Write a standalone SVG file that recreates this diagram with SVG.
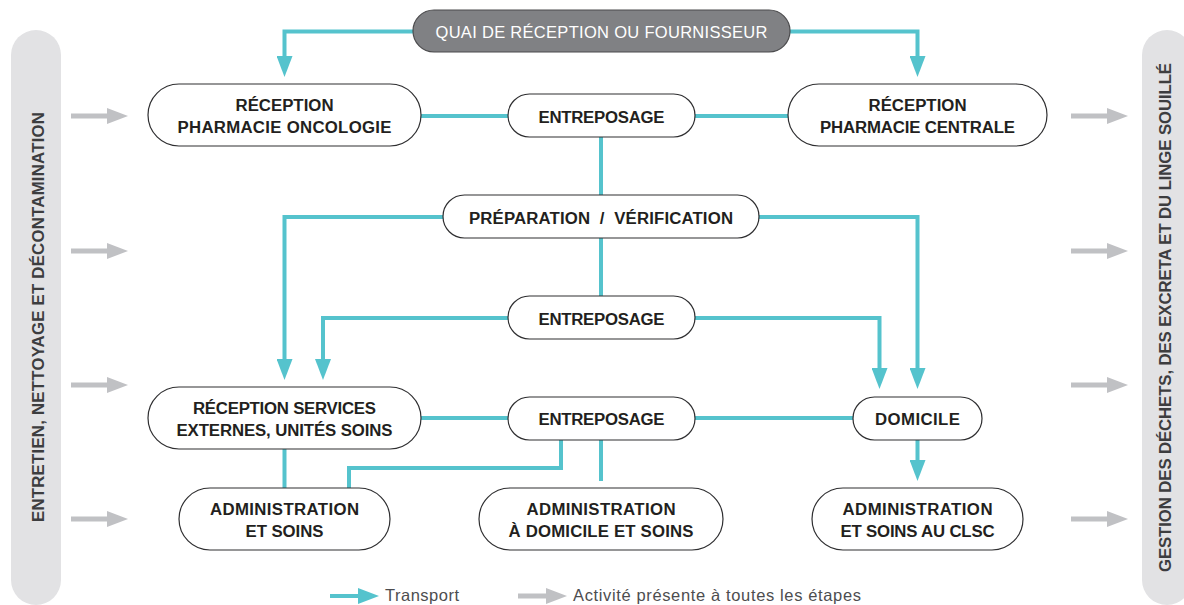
<svg xmlns="http://www.w3.org/2000/svg" width="1184" height="605" viewBox="0 0 1184 605">
<style>
.node rect{fill:#ffffff;stroke:#2e2e30;stroke-width:1.2}
.node text{font-family:"Liberation Sans",Arial,sans-serif;font-weight:bold;font-size:16.8px;fill:#231f20;text-anchor:middle}
.conn path{fill:none;stroke:#55c3cd;stroke-width:4;stroke-linejoin:miter}
.side rect{fill:#e2e2e4}
.side text{font-family:"Liberation Sans",Arial,sans-serif;font-weight:bold;font-size:16.8px;fill:#3d3d3f;text-anchor:middle}
.gray path{fill:none;stroke:#c0c1c4;stroke-width:5}
.legend text{font-family:"Liberation Sans",Arial,sans-serif;font-size:16.5px;fill:#4d4d4f}
</style>
<defs>
<marker id="ah" viewBox="0 0 21 16" refX="6" refY="8" markerWidth="21" markerHeight="16" markerUnits="userSpaceOnUse" orient="auto">
<path d="M0,0 L21,8 L0,16 z" fill="#55c3cd"/>
</marker>
<marker id="ahg" viewBox="0 0 21 16" refX="6" refY="8" markerWidth="21" markerHeight="16" markerUnits="userSpaceOnUse" orient="auto">
<path d="M0,0 L21,8 L0,16 z" fill="#c0c1c4"/>
</marker>
</defs>
<rect width="1184" height="605" fill="#ffffff"/>

<g id="side-left" class="side">
<rect x="11" y="30" width="50" height="575" rx="25"/>
<text transform="translate(43.5,317) rotate(-90)" textLength="410" lengthAdjust="spacing">ENTRETIEN, NETTOYAGE ET DÉCONTAMINATION</text>
</g>
<g id="side-right" class="side">
<rect x="1142" y="30" width="50" height="575" rx="25"/>
<text transform="translate(1171,317.5) rotate(-90)" textLength="509" lengthAdjust="spacing">GESTION DES DÉCHETS, DES EXCRETA ET DU LINGE SOUILLÉ</text>
</g>

<g id="gray-arrows" class="gray">
<path d="M71,116 H113" marker-end="url(#ahg)"/>
<path d="M71,251 H113" marker-end="url(#ahg)"/>
<path d="M71,385 H113" marker-end="url(#ahg)"/>
<path d="M71,519 H113" marker-end="url(#ahg)"/>
<path d="M1071,116 H1113" marker-end="url(#ahg)"/>
<path d="M1071,251 H1113" marker-end="url(#ahg)"/>
<path d="M1071,385 H1113" marker-end="url(#ahg)"/>
<path d="M1071,519 H1113" marker-end="url(#ahg)"/>
</g>

<g id="connectors" class="conn">
<path d="M413,31.5 H284.5 V62" marker-end="url(#ah)"/>
<path d="M790,31.5 H917.5 V62" marker-end="url(#ah)"/>
<path d="M421,116 H508"/>
<path d="M695,116 H788"/>
<path d="M601,137 V195"/>
<path d="M601,238 V297"/>
<path d="M443,217 H284.5 V365" marker-end="url(#ah)"/>
<path d="M759,217 H917.5 V374" marker-end="url(#ah)"/>
<path d="M508,318 H323 V365" marker-end="url(#ah)"/>
<path d="M695,318 H879.5 V374" marker-end="url(#ah)"/>
<path d="M421,418 H508"/>
<path d="M695,418 H853"/>
<path d="M917.5,440 V466" marker-end="url(#ah)"/>
<path d="M284.5,449 V488"/>
<path d="M561,440 V468 H349 V488"/>
<path d="M601,440 V481"/>
</g>

<g id="quai">
<rect x="413" y="10" width="377" height="42" rx="21" fill="#808184" stroke="#4a4a4c" stroke-width="1.2"/>
<text x="601.5" y="37.5" font-family="Liberation Sans, Arial, sans-serif" font-size="16.5" fill="#ffffff" text-anchor="middle" textLength="332" lengthAdjust="spacing">QUAI DE RÉCEPTION OU FOURNISSEUR</text>
</g>

<g id="reception-oncologie" class="node">
<rect x="148" y="84" width="273" height="62" rx="31"/>
<text x="284.5" y="111" textLength="98" lengthAdjust="spacing">RÉCEPTION</text>
<text x="284.5" y="133" textLength="214" lengthAdjust="spacing">PHARMACIE ONCOLOGIE</text>
</g>

<g id="entreposage-1" class="node">
<rect x="508" y="94" width="187" height="43" rx="21.5"/>
<text x="601.5" y="122.5" textLength="126" lengthAdjust="spacing">ENTREPOSAGE</text>
</g>

<g id="reception-centrale" class="node">
<rect x="788" y="84" width="259" height="62" rx="31"/>
<text x="917.5" y="111" textLength="98" lengthAdjust="spacing">RÉCEPTION</text>
<text x="917.5" y="133" textLength="195" lengthAdjust="spacing">PHARMACIE CENTRALE</text>
</g>

<g id="preparation" class="node">
<rect x="443" y="195" width="316" height="43" rx="21.5"/>
<text x="601" y="223.5" textLength="264" lengthAdjust="spacing" xml:space="preserve">PRÉPARATION  /  VÉRIFICATION</text>
</g>

<g id="entreposage-2" class="node">
<rect x="508" y="296" width="187" height="43" rx="21.5"/>
<text x="601.5" y="324.5" textLength="126" lengthAdjust="spacing">ENTREPOSAGE</text>
</g>

<g id="reception-services" class="node">
<rect x="148" y="387" width="273" height="62" rx="31"/>
<text x="284.5" y="414" textLength="183" lengthAdjust="spacing">RÉCEPTION SERVICES</text>
<text x="284.5" y="436" textLength="216" lengthAdjust="spacing">EXTERNES, UNITÉS SOINS</text>
</g>

<g id="entreposage-3" class="node">
<rect x="508" y="397" width="187" height="43" rx="21.5"/>
<text x="601.5" y="425" textLength="126" lengthAdjust="spacing">ENTREPOSAGE</text>
</g>

<g id="domicile" class="node">
<rect x="853" y="397" width="129" height="43" rx="21.5"/>
<text x="917.5" y="425" textLength="85" lengthAdjust="spacing">DOMICILE</text>
</g>

<g id="admin-soins" class="node">
<rect x="179" y="488" width="211" height="62" rx="31"/>
<text x="284.5" y="515" textLength="149" lengthAdjust="spacing">ADMINISTRATION</text>
<text x="284.5" y="537" textLength="78" lengthAdjust="spacing">ET SOINS</text>
</g>

<g id="admin-domicile" class="node">
<rect x="479" y="488" width="244" height="62" rx="31"/>
<text x="601" y="515" textLength="149" lengthAdjust="spacing">ADMINISTRATION</text>
<text x="601" y="537" textLength="185" lengthAdjust="spacing">À DOMICILE ET SOINS</text>
</g>

<g id="admin-clsc" class="node">
<rect x="812" y="488" width="211" height="62" rx="31"/>
<text x="917.5" y="515" textLength="150" lengthAdjust="spacing">ADMINISTRATION</text>
<text x="917.5" y="537" textLength="154" lengthAdjust="spacing">ET SOINS AU CLSC</text>
</g>

<g id="legend" class="legend">
<path d="M330,596 H364" stroke="#55c3cd" stroke-width="4" fill="none" marker-end="url(#ah)"/>
<text x="385" y="601" textLength="74" lengthAdjust="spacing">Transport</text>
<path d="M518,596 H552" stroke="#c0c1c4" stroke-width="5" fill="none" marker-end="url(#ahg)"/>
<text x="573" y="601" textLength="288" lengthAdjust="spacing">Activité présente à toutes les étapes</text>
</g>
</svg>
